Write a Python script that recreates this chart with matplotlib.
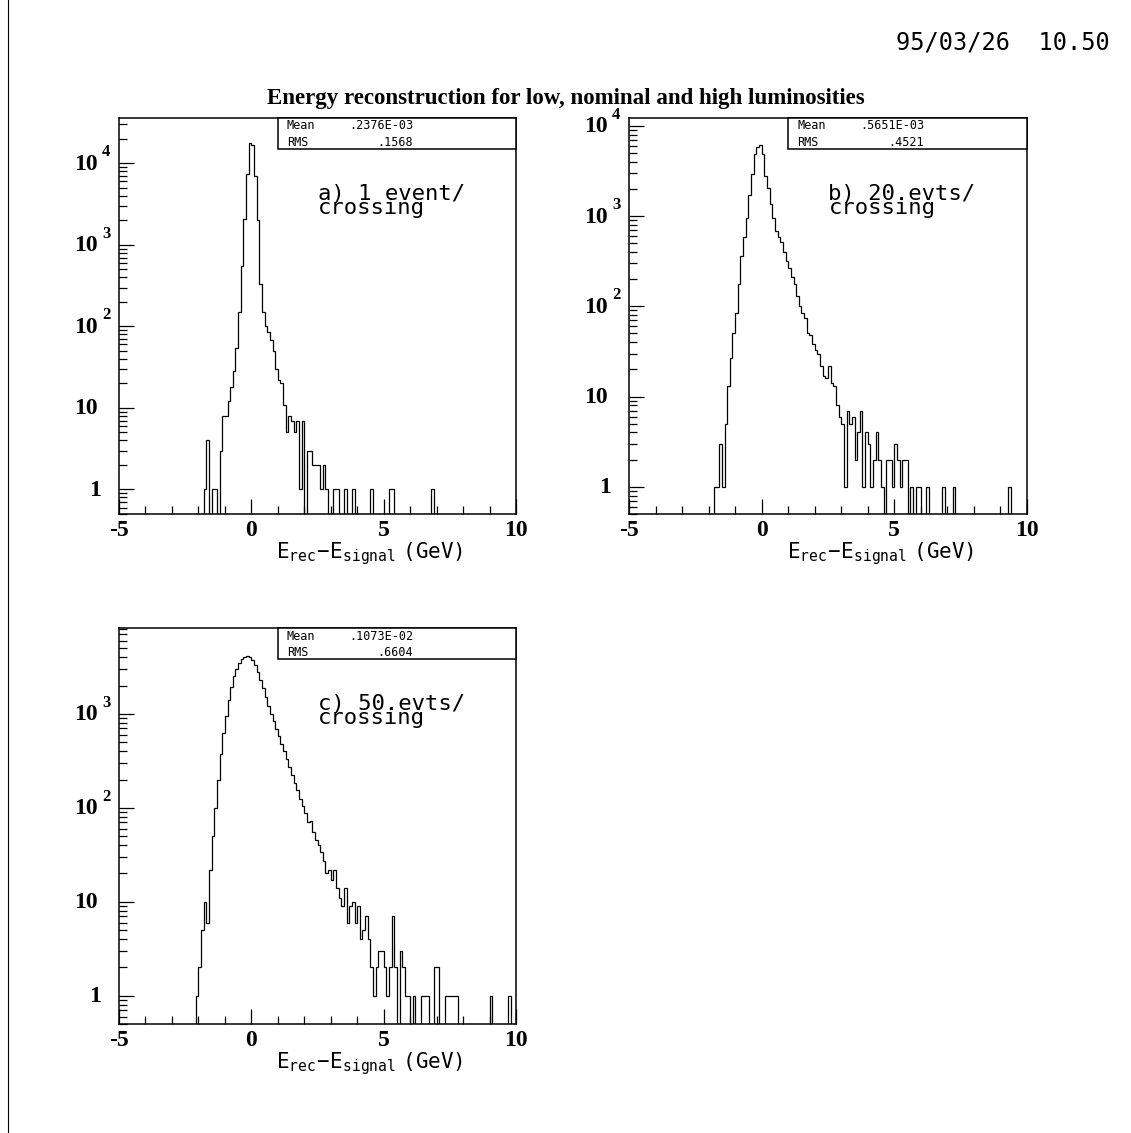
import numpy as np
import matplotlib
matplotlib.use("Agg")
import matplotlib.pyplot as plt
from matplotlib.lines import Line2D
from matplotlib.patches import Rectangle
from matplotlib.ticker import FixedLocator, LogLocator, NullFormatter
from matplotlib.transforms import offset_copy

W, H, DPI = 1131, 1133, 100

# Histogram binning: 150 bins of 0.1 GeV from -5 to 10
x_min, x_max, n_bins = -5.0, 10.0, 150
bin_width = 0.1

# a) 1 event / crossing  (counts start at the bin with lower edge start_a)
start_a = -1.8
counts_a = [
    1, 4, 0, 1, 1, 0, 3, 8, 8, 12,
    18, 28, 55, 150, 550, 2100, 7500, 18000, 17000, 7000,
    2000, 330, 150, 100, 85, 68, 50, 30, 22, 20,
    11, 5, 8, 7, 5, 7, 1, 7, 0, 3,
    3, 2, 2, 2, 1, 2, 1, 0, 0, 1,
    1, 0, 0, 1, 0, 0, 1, 0, 0, 0,
    0, 0, 0, 1, 0, 0, 0, 0, 0, 0,
    1, 1, 0, 0, 0, 0, 0, 0, 0, 0,
    0, 0, 0, 0, 0, 0, 1,
]

# b) 20 events / crossing
start_b = -1.8
counts_b = [
    1, 1, 3, 1, 5, 13, 27, 50, 85, 175,
    360, 580, 960, 1700, 2900, 4900, 5850, 6100, 4900, 2800,
    2050, 1370, 960, 680, 580, 520, 400, 315, 268, 210,
    175, 130, 100, 85, 75, 50, 48, 38, 33, 30,
    22, 17, 16, 22, 14, 13, 8, 6, 5, 1,
    7, 5, 6, 2, 4, 7, 1, 4, 3, 1,
    2, 4, 2, 1, 0, 2, 2, 1, 3, 2,
    1, 2, 2, 0, 1, 0, 1, 1, 0, 0,
    1, 0, 0, 0, 0, 0, 1, 0, 0, 0,
    1, 0, 0, 0, 0, 0, 0, 0, 0, 0,
    0, 0, 0, 0, 0, 0, 0, 0, 0, 0,
    0, 1,
]

# c) 50 events / crossing
start_c = -2.1
counts_c = [
    1, 2, 5, 10, 6, 22, 50, 100, 200, 370,
    620, 950, 1400, 1950, 2500, 3000, 3450, 3800, 4000, 4100,
    4000, 3700, 3300, 2800, 2300, 1900, 1500, 1200, 1000, 830,
    690, 580, 480, 400, 330, 270, 225, 185, 155, 125,
    105, 88, 70, 72, 55, 45, 40, 34, 27, 20,
    22, 17, 22, 14, 11, 9, 14, 6, 9, 10,
    6, 9, 4, 5, 7, 4, 2, 1, 2, 3,
    3, 2, 1, 2, 7, 2, 0, 3, 2, 1,
    1, 0, 1, 0, 0, 1, 1, 1, 0, 0,
    2, 2, 0, 0, 1, 1, 1, 1, 1, 0,
    0, 0, 0, 0, 0, 0, 0, 0, 0, 0,
    0, 1, 0, 0, 0, 0, 0, 0, 1,
]

stat_names = ["Mean", "RMS"]
stats_a = [".2376E-03", ".1568"]
stats_b = [".5651E-03", ".4521"]
stats_c = [".1073E-02", ".6604"]

labels_a = "a) 1 event/\ncrossing"
labels_b = "b) 20.evts/\ncrossing"
labels_c = "c) 50.evts/\ncrossing"

x_major = [-5, 0, 5, 10]
x_major_labels = ["-5", "0", "5", "10"]
title = "Energy reconstruction for low, nominal and high luminosities"
stamp = "95/03/26  10.50"
x_title = r"$\mathregular{E_{rec}\!-\!E_{signal}\ (GeV)}$"

plt.rcParams["axes.unicode_minus"] = False
SERIF_B = dict(family="Liberation Serif", weight="bold")
MONO = dict(family=["DejaVu Sans Mono", "DejaVu Sans"], weight="normal")

fig = plt.figure(figsize=(W / DPI, H / DPI), dpi=DPI)
fig.patch.set_facecolor("white")


def full_hist(start, vals):
    edges = np.linspace(x_min, x_max, n_bins + 1)
    h = np.zeros(n_bins)
    i0 = int(round((start - x_min) / bin_width))
    h[i0:i0 + len(vals)] = vals
    return edges, h


def rect_px(left, top, w, h):
    return [left / W, 1 - (top + h) / H, w / W, h / H]


def panel(rect, start, vals, stats, label):
    ax = fig.add_axes(rect)
    edges, h = full_hist(start, vals)
    ax.set_yscale("log", nonpositive="clip")
    ax.stairs(h, edges, baseline=None, color="black", lw=0.9)
    ax.set_xlim(x_min, x_max)
    ymax = 2 * h.max()
    ax.set_ylim(0.5, ymax)

    for s in ax.spines.values():
        s.set_linewidth(1.1)

    # x ticks
    ax.xaxis.set_major_locator(FixedLocator(x_major))
    ax.xaxis.set_minor_locator(FixedLocator(np.arange(-4, 10, 1)))
    ax.set_xticklabels(x_major_labels, fontsize=17, **SERIF_B)
    ax.tick_params(axis="x", which="major", direction="in", length=11,
                   width=0.9, pad=4, top=False)
    ax.tick_params(axis="x", which="minor", direction="in", length=5.5,
                   width=0.9, top=False)

    # y ticks (labels drawn by hand below)
    ax.yaxis.set_major_locator(LogLocator(base=10, numticks=20))
    ax.yaxis.set_minor_locator(LogLocator(base=10, subs=np.arange(2, 10), numticks=20))
    ax.yaxis.set_major_formatter(NullFormatter())
    ax.yaxis.set_minor_formatter(NullFormatter())
    ax.tick_params(axis="y", which="major", direction="in", length=11,
                   width=0.9, right=False)
    ax.tick_params(axis="y", which="minor", direction="in", length=5.5,
                   width=0.9, right=False)

    ytr = ax.get_yaxis_transform()
    base_tr = offset_copy(ytr, fig=fig, x=-21, y=-1, units="dots")
    exp_tr = offset_copy(ytr, fig=fig, x=-17, y=7, units="dots")
    one_tr = offset_copy(ytr, fig=fig, x=-18, y=-1, units="dots")
    k = 0
    while 10 ** k <= ymax:
        if k == 0:
            ax.text(0, 1, "1", transform=one_tr, ha="right", va="center",
                    fontsize=17, **SERIF_B)
        else:
            ax.text(0, 10 ** k, "10", transform=base_tr, ha="right",
                    va="center", fontsize=17, **SERIF_B)
            if k > 1:
                ax.text(0, 10 ** k, str(k), transform=exp_tr, ha="left",
                        va="baseline", fontsize=12, **SERIF_B)
        k += 1

    # x-axis title
    ax.text(0.632, 0, x_title, transform=offset_copy(ax.transAxes, fig=fig,
            x=0, y=-44, units="dots"), ha="center", va="baseline",
            fontsize=15, **MONO)

    # statistics box
    box_h = 31 / 396
    ax.add_patch(Rectangle((0.40, 1 - box_h), 0.60, box_h, transform=ax.transAxes,
                           facecolor="white", edgecolor="black", lw=1.1,
                           zorder=5, clip_on=False))
    for j, (name, val) in enumerate(zip(stat_names, stats)):
        yy = 1 - (8 + 17 * j) / 396
        ax.text(0.423, yy, name, transform=ax.transAxes, ha="left",
                va="center", fontsize=8.5, zorder=6, **MONO)
        ax.text(0.741, yy, val, transform=ax.transAxes, ha="right",
                va="center", fontsize=8.5, zorder=6, **MONO)

    # panel annotation (two tightly packed lines; anchored on the last line)
    tr = offset_copy(ax.transAxes, fig=fig, x=0, y=-96, units="dots")
    ax.text(0.501, 1, label, transform=tr, ha="left", va="baseline",
            fontsize=16, linespacing=0.62, **MONO)
    return ax


panel(rect_px(119, 118, 397, 396), start_a, counts_a, stats_a, labels_a)
panel(rect_px(629, 118, 398, 396), start_b, counts_b, stats_b, labels_b)
panel(rect_px(119, 628, 397, 396), start_c, counts_c, stats_c, labels_c)

fig.text(0.5, 1 - 104 / H, title, ha="center", va="baseline", fontsize=16.5,
         **SERIF_B)
fig.text(1110 / W, 1 - 50 / H, stamp, ha="right", va="baseline", fontsize=17,
         **MONO)

# page frame edge
fig.add_artist(Line2D([8 / W, 8 / W], [0, 1], transform=fig.transFigure,
                      color="black", lw=0.8))

fig.savefig("out.png", dpi=DPI, facecolor="white")
